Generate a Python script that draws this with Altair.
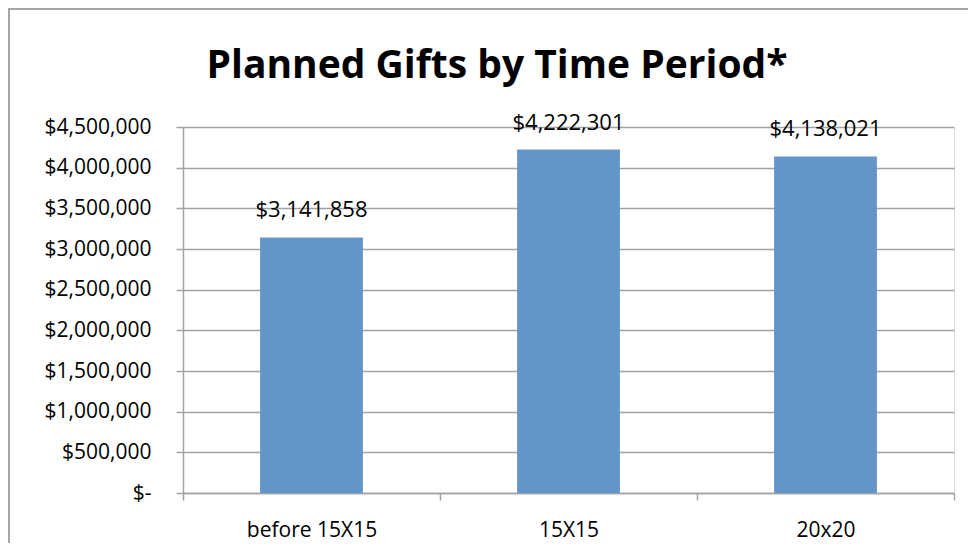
import altair as alt
import pandas as pd

categories = ["before 15X15", "15X15", "20x20"]
values = [3141858, 4222301, 4138021]
title_text = "Planned Gifts by Time Period*"

df = pd.DataFrame({"period": categories, "amount": values})
df["label"] = ["$" + format(v, ",") for v in values]

FONT = "Open Sans"
GRID = "#a3a3a3"
W, H = 771, 366

x_enc = alt.X(
    "period:N", sort=categories, title=None,
    scale=alt.Scale(paddingInner=0, paddingOuter=0),
    axis=alt.Axis(labelAngle=0, labelFont=FONT, labelFontSize=21, labelColor="#000",
                  labelPadding=19, tickSize=7, tickColor=GRID, tickWidth=1.5,
                  tickBand="extent", domainColor=GRID, domainWidth=1.5, grid=False),
)
y_enc = alt.Y(
    "amount:Q", title=None,
    scale=alt.Scale(domain=[0, 4500000], nice=False),
    axis=alt.Axis(values=list(range(0, 4500001, 500000)),
                  labelExpr="datum.value == 0 ? '$-' : '$' + format(datum.value, ',')",
                  labelFont=FONT, labelFontSize=21, labelColor="#000", labelPadding=25,
                  tickSize=7, tickColor=GRID, tickWidth=1.5,
                  domainColor=GRID, domainWidth=1.5,
                  grid=True, gridColor=GRID, gridWidth=1.5),
)

base = alt.Chart(df)
bars = base.mark_bar(color="#6395C9", width={"band": 0.4}).encode(x=x_enc, y=y_enc)
labels = base.mark_text(font=FONT, fontSize=22, color="#000", baseline="alphabetic", dy=-20).encode(
    x=alt.X("period:N", sort=categories), y=alt.Y("amount:Q"), text="label:N"
)

one = pd.DataFrame({"t": [title_text]})
title = alt.Chart(one).mark_text(font=FONT, fontSize=39, fontWeight="bold", color="#000",
                                 align="center", baseline="alphabetic").encode(
    x=alt.value(314), y=alt.value(-49), text="t:N"
)
border_left = alt.Chart(one).mark_rule(color="#a6a6a6", strokeWidth=2).encode(
    x=alt.value(-174), y=alt.value(-119), y2=alt.value(H + 60)
)
border_top = alt.Chart(one).mark_rule(color="#a6a6a6", strokeWidth=2).encode(
    x=alt.value(-175), x2=alt.value(W + 20), y=alt.value(-118)
)

chart = alt.layer(bars, labels, title, border_left, border_top).properties(
    width=W, height=H,
    autosize=alt.AutoSizeParams(type="none"),
    padding={"left": 175, "top": 119, "right": 14, "bottom": 50},
).configure_view(stroke=None).configure(background="white")

chart.save("out.html", embed_options={"renderer": "svg", "actions": False})
